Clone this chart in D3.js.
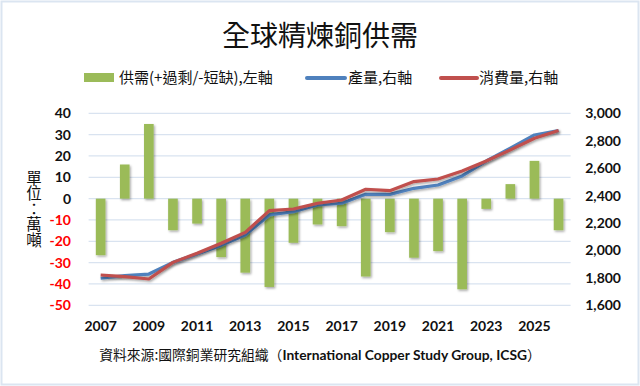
<!DOCTYPE html>
<html>
<head>
<meta charset="utf-8">
<script src="https://cdn.jsdelivr.net/npm/d3@7"></script>
<style>
  body { margin: 0; background: #fff; }
  .tick-l, .tick-r, .tick-x { font-family: Lato, "Open Sans", sans-serif; font-weight: bold; font-size: 14px; }
  .cjk { font-family: "Noto Sans CJK TC", sans-serif; }
</style>
</head>
<body>
<svg width="640" height="386"></svg>
<script>
// chart data
const years = d3.range(2007, 2027);
const balance = [-26.5, 16, 35, -14.8, -11.7, -27.4, -34.7, -41.4, -20.7, -12.1,
  -12.9, -36.5, -15.7, -27.7, -24.6, -42.5, -4.8, 6.8, 17.7, -14.8];
const production = [1797, 1816, 1828, 1913, 1974, 2037, 2113, 2259, 2283, 2332,
  2344, 2409, 2409, 2453, 2477, 2543, 2652, 2745, 2842, 2874];
const consumption = [1821, 1809, 1792, 1913, 1979, 2052, 2132, 2290, 2302, 2344,
  2368, 2446, 2436, 2502, 2521, 2580, 2652, 2733, 2818, 2874];
const leftTicks = [40, 30, 20, 10, 0, -10, -20, -30, -40, -50];
const rightTicks = [3000, 2800, 2600, 2400, 2200, 2000, 1800, 1600];
const xLabels = [2007, 2009, 2011, 2013, 2015, 2017, 2019, 2021, 2023, 2025];

const svg = d3.select('svg');
const W = 640, H = 386;
const plotL = 88.6, plotR = 570.6, plotT = 113.3, plotB = 305.3;

// outer frame
svg.append('rect').attr('x', 1.5).attr('y', 1.5).attr('width', W - 3).attr('height', H - 3)
  .attr('fill', '#fff').attr('stroke', '#dbe5f1').attr('stroke-width', 2);

const defs = svg.append('defs');
const f = defs.append('filter').attr('id', 'shadow').attr('x', '-20%').attr('y', '-20%')
  .attr('width', '160%').attr('height', '160%');
f.append('feDropShadow').attr('dx', 1.2).attr('dy', 1.5).attr('stdDeviation', 0.9)
  .attr('flood-color', '#000').attr('flood-opacity', 0.35);

const x = d3.scaleBand().domain(years).range([plotL, plotR]).paddingInner(0.6).paddingOuter(0.3);
const xc = d => x(d) + x.bandwidth() / 2;
const yL = d3.scaleLinear().domain([-50, 40]).range([plotB, plotT]);
const yR = d3.scaleLinear().domain([1600, 3000]).range([plotB, plotT]);

// gridlines
svg.append('g').selectAll('line').data(leftTicks).join('line')
  .attr('x1', plotL).attr('x2', plotR)
  .attr('y1', d => yL(d)).attr('y2', d => yL(d))
  .attr('stroke', '#d9e3f0').attr('stroke-width', 1.3);

// title
svg.append('text').attr('class', 'cjk').attr('x', 320).attr('y', 46)
  .attr('text-anchor', 'middle').attr('font-size', 28).attr('fill', '#111')
  .text('全球精煉銅供需');

// legend
const lg = svg.append('g').attr('class', 'cjk').attr('font-size', 15).attr('fill', '#111');
lg.append('rect').attr('x', 84).attr('y', 73).attr('width', 30).attr('height', 9).attr('fill', '#9bbb59');
lg.append('text').attr('x', 119).attr('y', 83).text('供需(+過剩/-短缺),左軸');
lg.append('line').attr('x1', 307).attr('x2', 345).attr('y1', 78).attr('y2', 78)
  .attr('stroke', '#4f81bd').attr('stroke-width', 4).attr('stroke-linecap', 'round');
lg.append('text').attr('x', 348).attr('y', 83).text('產量,右軸');
lg.append('line').attr('x1', 441).attr('x2', 477).attr('y1', 78).attr('y2', 78)
  .attr('stroke', '#c0504d').attr('stroke-width', 4).attr('stroke-linecap', 'round');
lg.append('text').attr('x', 479).attr('y', 83).text('消費量,右軸');

// bars
svg.append('g').attr('filter', 'url(#shadow)').selectAll('rect').data(balance).join('rect')
  .attr('x', (d, i) => x(years[i]))
  .attr('width', x.bandwidth())
  .attr('y', d => yL(Math.max(0, d)))
  .attr('height', d => Math.abs(yL(d) - yL(0)))
  .attr('fill', '#9bbb59');

// lines
const line = d3.line().x((d, i) => xc(years[i])).y(d => yR(d));
svg.append('path').datum(production).attr('d', line).attr('fill', 'none')
  .attr('stroke', '#4f81bd').attr('stroke-width', 3.2).attr('stroke-linejoin', 'round')
  .attr('filter', 'url(#shadow)');
svg.append('path').datum(consumption).attr('d', line).attr('fill', 'none')
  .attr('stroke', '#c0504d').attr('stroke-width', 3.2).attr('stroke-linejoin', 'round')
  .attr('filter', 'url(#shadow)');

// left axis labels
svg.append('g').selectAll('text').data(leftTicks).join('text')
  .attr('class', 'tick-l')
  .attr('x', 71).attr('y', d => yL(d) + 5)
  .attr('text-anchor', 'end')
  .attr('fill', d => d < 0 ? '#ff0000' : '#111')
  .text(d => d);

// right axis labels
svg.append('g').selectAll('text').data(rightTicks).join('text')
  .attr('class', 'tick-r')
  .attr('x', 621).attr('y', d => yR(d) + 5)
  .attr('text-anchor', 'end').attr('fill', '#111')
  .text(d3.format(','));

// x labels
svg.append('g').selectAll('text').data(xLabels).join('text')
  .attr('class', 'tick-x')
  .attr('x', d => xc(d)).attr('y', 331)
  .attr('text-anchor', 'middle').attr('fill', '#111')
  .text(d => d);

// unit label, vertical
svg.append('text').attr('class', 'cjk')
  .attr('x', 34).attr('y', 170)
  .style('writing-mode', 'vertical-rl')
  .attr('font-size', 15.5).attr('fill', '#111')
  .text('單位：萬噸');

// source
const src = svg.append('text').attr('x', 320).attr('y', 360).attr('text-anchor', 'middle')
  .attr('font-size', 13.8).attr('fill', '#111');
src.append('tspan').attr('class', 'cjk').text('資料來源:國際銅業研究組織（');
src.append('tspan').attr('font-family', 'Lato, sans-serif').attr('font-weight', 'bold')
  .text('International Copper Study Group, ICSG');
src.append('tspan').attr('class', 'cjk').text('）');
</script>
</body>
</html>
